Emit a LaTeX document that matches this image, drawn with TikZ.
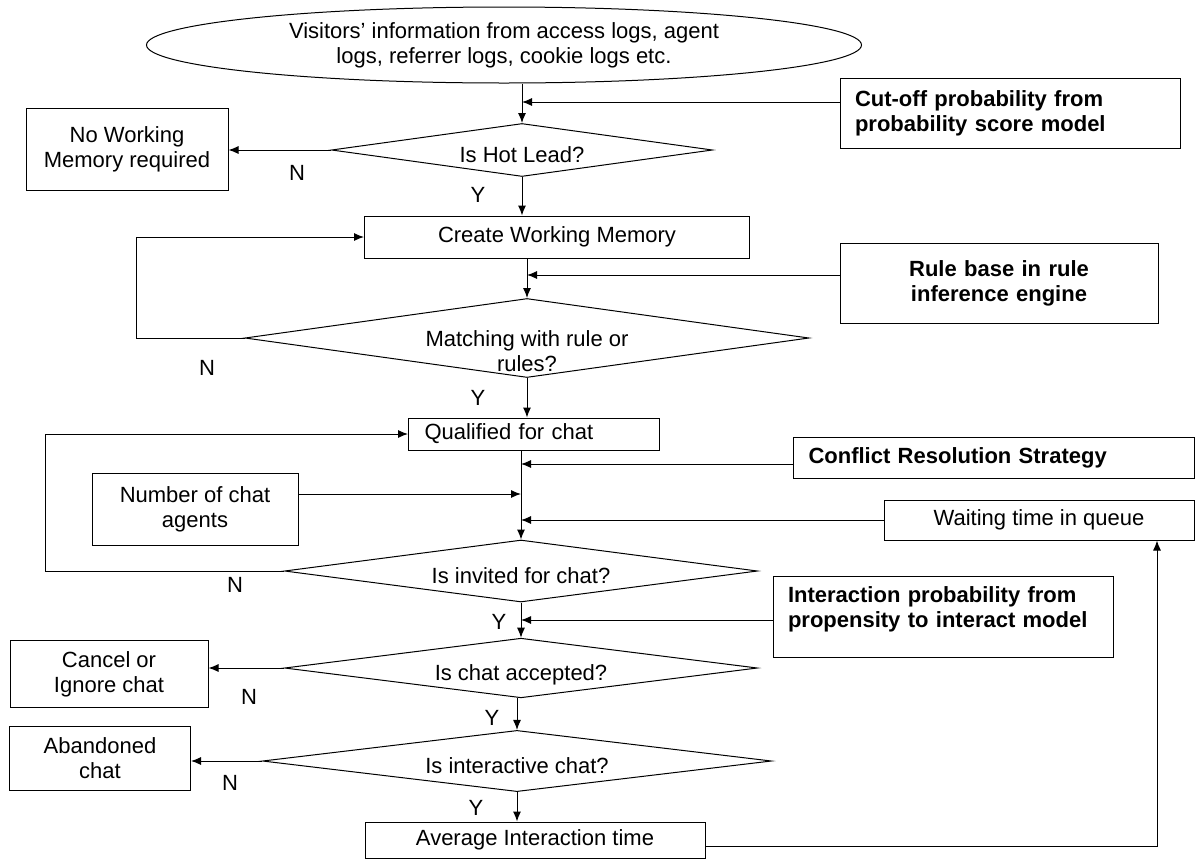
\documentclass[tikz,border=0pt]{standalone}
\usepackage{fontspec}
\setmainfont{Liberation Sans}
\usetikzlibrary{positioning,arrows.meta,shapes.geometric}

\begin{document}
\begin{tikzpicture}[
  x=1pt, y=-1pt,
  line width=1pt,
  every node/.style={font=\fontsize{22}{25}\selectfont},
  box/.style={draw,align=center,inner sep=2pt},
  note/.style={draw,align=left,inner xsep=15pt,font=\fontsize{22}{25}\selectfont\bfseries},
  decision/.style={draw,diamond,aspect=7,inner sep=0pt,align=center,text height=30pt,text depth=5pt},
  >={Latex[length=10pt,width=8pt]}
]
  \useasboundingbox (0,0) rectangle (1196,860);

  \node[draw,ellipse,minimum width=715pt,minimum height=76pt,inner sep=0pt,align=center]
    (src) at (504,45) {Visitors' information from access logs, agent\\logs, referrer logs, cookie logs etc.};
  \node[note,text width=310pt,minimum height=70pt] (cutoff) at (1010,113) {Cut-off probability from\\probability score model};

  \node[decision,minimum width=381pt,minimum height=53pt] (hot) at (522,150) {Is Hot Lead?};
  \node[box,minimum width=202pt,minimum height=82pt] (nowm) at (127,149) {No Working\\Memory required};
  \node[box,minimum width=385pt,minimum height=42pt] (cwm) at (557,237) {Create Working Memory};
  \node[note,align=center,text width=288pt,minimum height=80pt] (rules) at (999,283) {Rule base in rule\\inference engine};

  \node[decision,minimum width=564pt,minimum height=79pt,
    label={[align=center,yshift=-13pt]center:{Matching with rule or\\rules?}}] (match) at (527,338) {};
  \node[box,minimum width=251pt,minimum height=32pt,align=left,text width=219pt] (qual) at (534,434) {Qualified for chat};
  \node[note,text width=371pt,minimum height=41pt] (conflict) at (994,458) {Conflict Resolution Strategy};
  \node[box,minimum width=206pt,minimum height=72pt] (agents) at (195,509) {Number of chat\\agents};
  \node[box,minimum width=310pt,minimum height=40pt] (wait) at (1039,520) {Waiting time in queue};

  \node[decision,minimum width=473pt,minimum height=62pt] (invited) at (521,571) {Is invited for chat?};
  \node[note,text width=310pt,minimum height=81pt,text height=16pt,text depth=46pt] (inter) at (943,617) {Interaction probability from\\propensity to interact model};
  \node[decision,minimum width=473pt,minimum height=53pt] (accept) at (521,668) {Is chat accepted?};
  \node[box,minimum width=198pt,minimum height=67pt] (cancel) at (109,674) {Cancel or\\Ignore chat};
  \node[decision,minimum width=509pt,minimum height=55pt] (interact) at (517,761) {Is interactive chat?};
  \node[box,minimum width=181pt,minimum height=64pt] (aband) at (100,758) {Abandoned\\chat};
  \node[box,minimum width=340pt,minimum height=36pt] (avg) at (535,840) {Average Interaction time};

  \node (nHot) at (297,173) {N};
  \node (yHot) at (478,195) {Y};
  \node (nMatch) at (207,368) {N};
  \node (yMatch) at (478,398) {Y};
  \node (nInv) at (235,585) {N};
  \node (yInv) at (499,622) {Y};
  \node (nAcc) at (249,697) {N};
  \node (yAcc) at (492,718) {Y};
  \node (nInt) at (230,783) {N};
  \node (yInt) at (476,808) {Y};

  \coordinate (jCut) at (522,102);
  \coordinate (jRule) at (527,275);
  \coordinate (jConf) at (521,464);
  \coordinate (jAgt) at (521,494);
  \coordinate (jWait) at (521,520);
  \coordinate (jInter) at (521,620);

  \draw[->] (src.south -| hot.north) -- (hot.north);
  \draw[->] ([yshift=11pt]cutoff.west) -- (jCut);
  \draw[->] (hot.west) -- (hot.west -| nowm.east);
  \draw[->] (hot.south) -- (hot.south |- cwm.north);
  \draw[->] (cwm.south -| match.north) -- (match.north);
  \draw[->] ([yshift=8pt]rules.west) -- (jRule);
  \draw[->] (match.west) -- ++(-108,0) |- (cwm.west);
  \draw[->] (match.south) -- (match.south |- qual.north);
  \draw[->] (qual.south -| invited.north) -- (invited.north);
  \draw[->] ([yshift=-6pt]conflict.west) -- (jConf);
  \draw[->] ([yshift=15pt]agents.east) -- (jAgt);
  \draw[->] (wait.west) -- (jWait);
  \draw[->] (invited.west) -- ++(-239,0) |- (qual.west);
  \draw[->] (invited.south) -- (accept.north);
  \draw[->] ([yshift=-3pt]inter.west) -- (jInter);
  \draw[->] (accept.west) -- (accept.west -| cancel.east);
  \draw[->] (accept.south -| interact.north) -- (interact.north);
  \draw[->] (interact.west) -- (interact.west -| aband.east);
  \draw[->] (interact.south) -- (interact.south |- avg.north);
  \draw[->] ([yshift=-6pt]avg.east) -| ([xshift=118pt]wait.south);
\end{tikzpicture}
\end{document}
